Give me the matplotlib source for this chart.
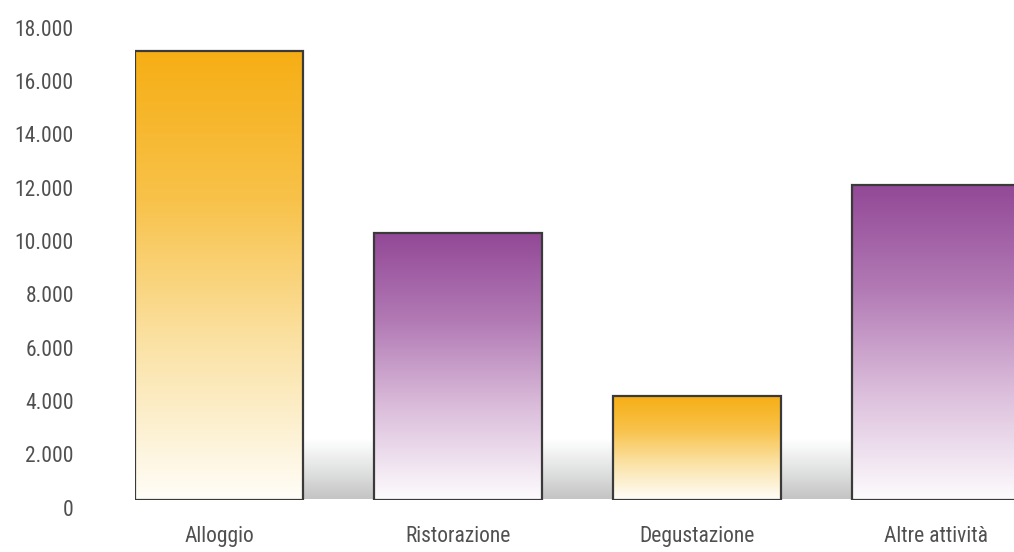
import numpy as np
import matplotlib
matplotlib.use("Agg")
import matplotlib.pyplot as plt
from matplotlib import font_manager
from matplotlib.colors import LinearSegmentedColormap
from matplotlib.transforms import ScaledTranslation

categories = ["Alloggio", "Ristorazione", "Degustazione", "Altre attività"]
values = [16800, 10000, 3900, 11800]
bar_styles = ["orange", "purple", "orange", "purple"]
yticks = [0, 2000, 4000, 6000, 8000, 10000, 12000, 14000, 16000, 18000]
ytick_labels = ["0", "2.000", "4.000", "6.000", "8.000", "10.000",
                "12.000", "14.000", "16.000", "18.000"]

# pick a narrow sans face if one is installed
available = {f.name for f in font_manager.fontManager.ttflist}
family = "DejaVu Sans"
for cand in ["Roboto Condensed", "Liberation Sans Narrow", "DejaVu Sans Condensed",
             "Open Sans Condensed", "Noto Sans"]:
    if cand in available:
        family = cand
        break
plt.rcParams["font.family"] = [family, "DejaVu Sans"]

text_color = "#505050"
cmaps = {
    "orange": LinearSegmentedColormap.from_list("o", ["#fffdf7", "#fbe3a8", "#f8c24a", "#f6ae14"]),
    "purple": LinearSegmentedColormap.from_list("p", ["#fdfbfd", "#dcbfdc", "#b27ab5", "#924896"]),
}
band_cmap = LinearSegmentedColormap.from_list("g", ["#c4c4c4", "#e2e3e3", "#ffffff"])

fig = plt.figure(figsize=(10.14, 5.52), dpi=100)
ax = fig.add_axes([135 / 1014, 52.5 / 552, 1 - 135 / 1014, 480 / 552])

width = 0.703
x = np.arange(len(categories))
xmin, xmax = -width / 2, 3.328
ax.set_xlim(xmin, xmax)
ax.set_ylim(0, 18000)

# grey shading along the base
grad = np.linspace(0, 1, 256).reshape(-1, 1)
ax.imshow(grad, extent=(xmin, xmax, 0, 2250), origin="lower", cmap=band_cmap,
          aspect="auto", zorder=0, interpolation="bicubic")

for xi, v, style in zip(x, values, bar_styles):
    ax.imshow(grad, extent=(xi - width / 2, xi + width / 2, 0, v), origin="lower",
              cmap=cmaps[style], aspect="auto", zorder=1, interpolation="bicubic")
ax.bar(x, values, width=width, facecolor="none", edgecolor="#3a3a3a",
       linewidth=1.6, zorder=2)

ax.set_xlim(xmin, xmax)
ax.set_ylim(0, 18000)

ax.set_xticks(x)
ax.set_xticklabels(categories, fontsize=15.5, color=text_color)
ax.set_yticks(yticks)
ax.set_yticklabels(ytick_labels, fontsize=15.5, color=text_color)
ax.tick_params(axis="both", length=0)
ax.tick_params(axis="y", pad=44)
ax.tick_params(axis="x", pad=19)
shift = ScaledTranslation(0, -0.08, fig.dpi_scale_trans)
for lab in ax.get_yticklabels():
    lab.set_transform(lab.get_transform() + shift)

for s in ax.spines.values():
    s.set_visible(False)

fig.savefig("out.png", dpi=100)
